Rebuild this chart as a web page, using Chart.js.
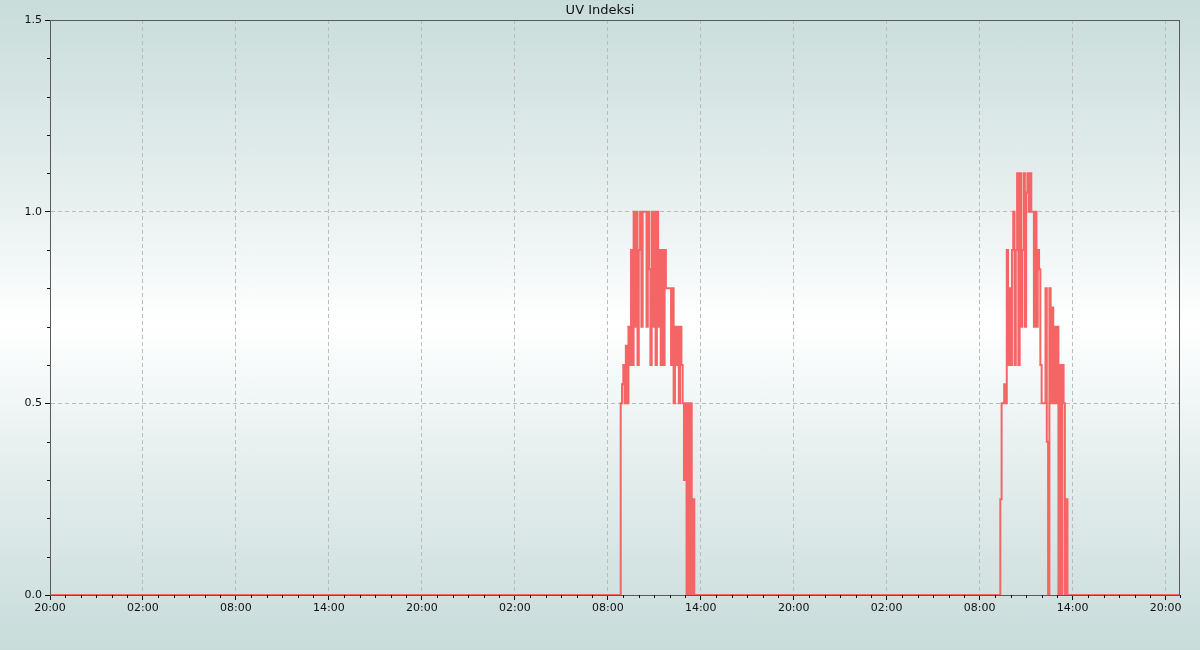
<!DOCTYPE html>
<html lang="tr">

<head>
    <meta charset="UTF-8" />
    <title>UV Indeksi</title>
    <style>
        * {
            margin: 0;
            padding: 0;
        }

        body {
            width: 1200px;
            height: 650px;
            overflow: hidden;
            background: linear-gradient(to bottom, #c8dcda 0%, #e4eeed 28%, #ffffff 50%, #e4eeed 72%, #c8dcda 100%);
        }

        .chartBox {
            width: 1200px;
            height: 650px;
        }
    </style>
</head>

<body>
    <div class="chartBox">
        <canvas id="myChart"></canvas>
    </div>
    <script src="https://cdn.jsdelivr.net/npm/chart.js@4/dist/chart.umd.min.js"></script>
    <script>
        // hours counted from 20:00 of the first day
        const axisStart = 0;
        const axisEnd = 72.93;
        const stepMinutes = 5;

        // first day: readings start at 08:50
        const day1Start = 36 + 50 / 60;
        const day1Values = [
            0.5, 0.55, 0.6, 0.5, 0.65, 0.5, 0.7, 0.6, 0.9, 0.6,
            1.0, 0.7, 1.0, 0.6, 0.9, 1.0, 0.7, 1.0, 1.0, 1.0,
            0.7, 1.0, 0.85, 0.6, 1.0, 0.7, 1.0, 0.6, 1.0, 0.7,
            0.9, 0.6, 0.9, 0.6, 0.9, 0.8, 0.8, 0.8, 0.8, 0.6,
            0.8, 0.5, 0.7, 0.6, 0.7, 0.5, 0.7, 0.6, 0.5, 0.3,
            0.5, 0, 0.5, 0, 0.5, 0, 0.25
        ];

        // second day: readings start at 09:20
        const day2Start = 61 + 20 / 60;
        const day2Values = [
            0.25, 0.5, 0.5, 0.55, 0.5, 0.9, 0.6, 0.8, 0.6, 0.9,
            1.0, 0.6, 0.9, 1.1, 0.6, 1.1, 0.7, 0.9, 1.1, 0.7,
            1.05, 1.1, 1.0, 1.1, 1.0, 1.0, 0.7, 1.0, 0.7, 0.9,
            0.85, 0.6, 0.5, 0.5, 0.5, 0.8, 0.4, 0, 0.8, 0.5,
            0.75, 0.5, 0.7, 0.5, 0.7, 0, 0.6, 0, 0.6, 0.5,
            0, 0.25
        ];

        const majorEvery = 6;

        function buildPoints() {
            const pts = [{ x: axisStart, y: 0 }];
            [[day1Start, day1Values], [day2Start, day2Values]].forEach(function (d) {
                const start = d[0];
                const vals = d[1];
                vals.forEach(function (v, i) {
                    pts.push({ x: start + i * stepMinutes / 60, y: v });
                });
                pts.push({ x: start + vals.length * stepMinutes / 60, y: 0 });
            });
            pts.push({ x: axisEnd, y: 0 });
            return pts;
        }

        function hourLabel(v) {
            const h = (20 + Math.round(v)) % 24;
            return (h < 10 ? "0" : "") + h + ":00";
        }

        function isMajorX(v) {
            return Math.abs(v % majorEvery) < 1e-6;
        }

        function isMajorY(v) {
            return Math.abs(v * 2 - Math.round(v * 2)) < 1e-6;
        }

        Chart.defaults.font.family = "'DejaVu Sans', sans-serif";
        Chart.defaults.font.size = 11;
        Chart.defaults.color = "#111";

        // box round the plot, short minor ticks and the title
        const frame = {
            id: "frame",
            afterDraw: function (chart) {
                const c = chart.ctx;
                const a = chart.chartArea;
                const xs = chart.scales.x;
                const ys = chart.scales.y;
                c.save();
                c.strokeStyle = "#5a5a5a";
                c.lineWidth = 1;
                c.strokeRect(a.left + 0.5, a.top + 0.5, a.right - a.left - 1, a.bottom - a.top);

                c.strokeStyle = "#111";
                c.beginPath();
                xs.ticks.forEach(function (t) {
                    if (isMajorX(t.value)) return;
                    const px = Math.round(xs.getPixelForValue(t.value)) + 0.5;
                    c.moveTo(px, a.bottom);
                    c.lineTo(px, a.bottom + 3);
                });
                ys.ticks.forEach(function (t) {
                    if (isMajorY(t.value)) return;
                    const py = Math.round(ys.getPixelForValue(t.value)) + 0.5;
                    c.moveTo(a.left - 3, py);
                    c.lineTo(a.left, py);
                });
                c.stroke();

                c.fillStyle = "#111";
                c.font = "13px 'DejaVu Sans', sans-serif";
                c.textAlign = "center";
                c.textBaseline = "middle";
                c.fillText("UV Indeksi", 600, 11);
                c.restore();
            }
        };

        const data = {
            datasets: [
                {
                    label: "UV Indeksi",
                    data: buildPoints(),
                    borderColor: "#f56565",
                    backgroundColor: "#f56565",
                    borderWidth: 2,
                    pointRadius: 0,
                    stepped: true,
                    fill: false,
                },
            ],
        };

        const options = {
            responsive: true,
            maintainAspectRatio: false,
            animation: false,
            layout: {
                padding: { left: 0, right: 20, top: 20, bottom: 0 },
            },
            scales: {
                x: {
                    type: "linear",
                    min: axisStart,
                    max: axisEnd,
                    afterBuildTicks: function (scale) {
                        const t = [];
                        for (let h = 0; h <= axisEnd; h++) t.push({ value: h });
                        t.push({ value: axisEnd });
                        scale.ticks = t;
                    },
                    afterFit: function (scale) {
                        scale.height = 55;
                    },
                    ticks: {
                        autoSkip: false,
                        maxRotation: 0,
                        padding: 2,
                        callback: function (v) {
                            return isMajorX(v) ? hourLabel(v) : "";
                        },
                    },
                    grid: {
                        color: function (ctx) {
                            const v = ctx.tick ? ctx.tick.value : 0;
                            return isMajorX(v) && v > 0 ? "#bcbcbc" : "rgba(0,0,0,0)";
                        },
                        tickColor: function (ctx) {
                            const v = ctx.tick ? ctx.tick.value : 0;
                            return isMajorX(v) ? "#111" : "rgba(0,0,0,0)";
                        },
                        tickLength: 5,
                        lineWidth: 1,
                    },
                    border: {
                        color: "#5a5a5a",
                        dash: [4, 3],
                    },
                },
                y: {
                    min: 0,
                    max: 1.5,
                    afterBuildTicks: function (scale) {
                        const t = [];
                        for (let i = 0; i <= 15; i++) t.push({ value: i / 10 });
                        scale.ticks = t;
                    },
                    afterFit: function (scale) {
                        scale.width = 50;
                    },
                    ticks: {
                        autoSkip: false,
                        padding: 3,
                        callback: function (v) {
                            return isMajorY(v) ? v.toFixed(1) : "";
                        },
                    },
                    grid: {
                        color: function (ctx) {
                            const v = ctx.tick ? ctx.tick.value : 0;
                            return isMajorY(v) && v > 0 && v < 1.5 ? "#bcbcbc" : "rgba(0,0,0,0)";
                        },
                        tickColor: function (ctx) {
                            const v = ctx.tick ? ctx.tick.value : 0;
                            return isMajorY(v) ? "#111" : "rgba(0,0,0,0)";
                        },
                        tickLength: 5,
                        lineWidth: 1,
                    },
                    border: {
                        color: "#5a5a5a",
                        dash: [4, 3],
                    },
                },
            },
            plugins: {
                legend: { display: false },
                title: { display: false },
                tooltip: { enabled: false },
            },
        };

        const config = {
            type: "line",
            data: data,
            options: options,
            plugins: [frame],
        };

        const ctx = document.getElementById("myChart").getContext("2d");
        const myChart = new Chart(ctx, config);
    </script>
</body>

</html>
